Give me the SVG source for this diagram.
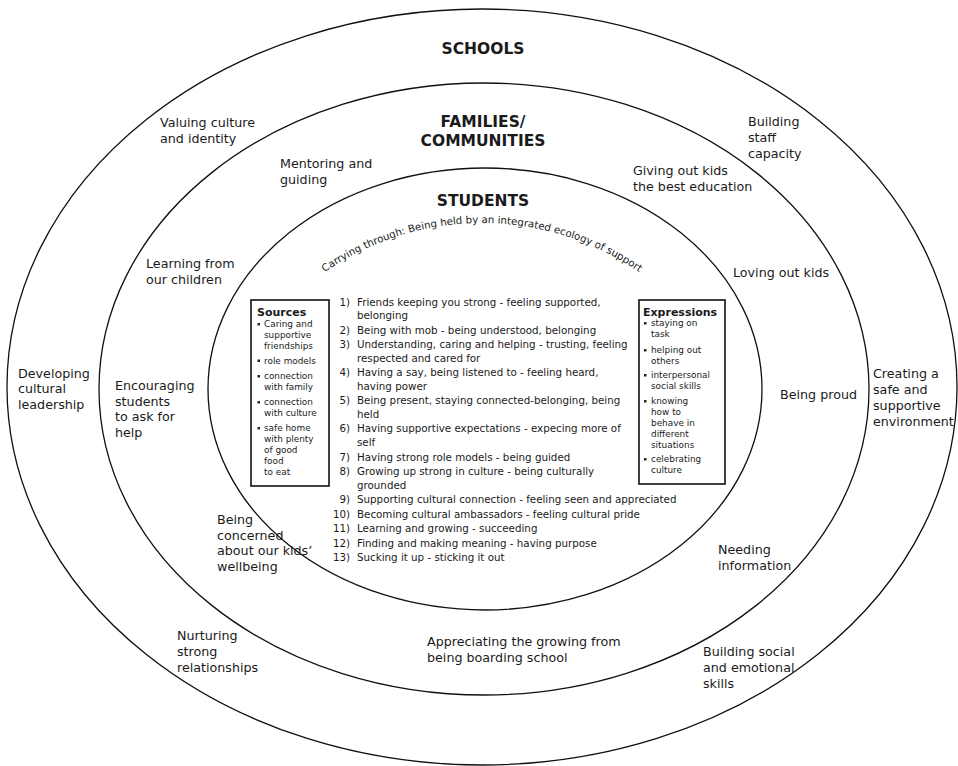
<svg xmlns="http://www.w3.org/2000/svg" width="958" height="766" viewBox="0 0 958 766">
<defs>
<style>
.ring{fill:none;stroke:#111;stroke-width:1.3}
.t{font-family:"DejaVu Sans","Liberation Sans",sans-serif;font-size:12.7px;fill:#1a1a1a}
.h{font-family:"DejaVu Sans","Liberation Sans",sans-serif;font-weight:bold;font-size:15.5px;fill:#1a1a1a;text-anchor:middle}
.li{font-family:"DejaVu Sans","Liberation Sans",sans-serif;font-size:10.3px;fill:#1a1a1a}
.num{font-family:"DejaVu Sans","Liberation Sans",sans-serif;font-size:10.3px;fill:#1a1a1a;text-anchor:end}
.bx{font-family:"DejaVu Sans","Liberation Sans",sans-serif;font-size:8.9px;fill:#1a1a1a}
.bh{font-family:"DejaVu Sans","Liberation Sans",sans-serif;font-weight:bold;font-size:11px;fill:#1a1a1a}
.box{fill:#fff;stroke:#111;stroke-width:1.6}
.bul{fill:#222}
.arc{font-family:"DejaVu Sans","Liberation Sans",sans-serif;font-size:10.2px;fill:#1a1a1a}
</style>
<path id="arcPath" d="M 243,361 A 276 276 0 0 1 721,361" fill="none"/>
</defs>
<rect width="958" height="766" fill="#fff"/>

<g id="schools">
<ellipse class="ring" cx="482" cy="387" rx="475" ry="378"/>
<text class="h" x="483" y="54">SCHOOLS</text>
</g>
<g id="families">
<ellipse class="ring" cx="484" cy="389" rx="385" ry="306"/>
<text class="h" x="483" y="127">FAMILIES/</text>
<text class="h" x="483" y="146">COMMUNITIES</text>
</g>
<g id="students">
<ellipse class="ring" cx="485" cy="389" rx="277" ry="221"/>
<text class="h" x="483" y="206">STUDENTS</text>
<text class="arc"><textPath href="#arcPath" startOffset="50%" text-anchor="middle">Carrying through: Being held by an integrated ecology of support</textPath></text>
</g>

<g id="connectors"></g>

<g id="school-labels">
<text class="t" x="160" y="127">Valuing culture<tspan x="160" dy="15.5">and identity</tspan></text>
<text class="t" x="748" y="126">Building<tspan x="748" dy="15.8">staff</tspan><tspan x="748" dy="15.8">capacity</tspan></text>
<text class="t" x="18" y="378">Developing<tspan x="18" dy="15.4">cultural</tspan><tspan x="18" dy="15.4">leadership</tspan></text>
<text class="t" x="873" y="378">Creating a<tspan x="873" dy="16">safe and</tspan><tspan x="873" dy="16">supportive</tspan><tspan x="873" dy="16">environment</tspan></text>
<text class="t" x="177" y="640">Nurturing<tspan x="177" dy="15.8">strong</tspan><tspan x="177" dy="15.8">relationships</tspan></text>
<text class="t" x="703" y="656">Building social<tspan x="703" dy="15.8">and emotional</tspan><tspan x="703" dy="15.8">skills</tspan></text>
</g>

<g id="family-labels">
<text class="t" x="280" y="168">Mentoring and<tspan x="280" dy="16">guiding</tspan></text>
<text class="t" x="633" y="175">Giving out kids<tspan x="633" dy="15.7">the best education</tspan></text>
<text class="t" x="146" y="268">Learning from<tspan x="146" dy="15.5">our children</tspan></text>
<text class="t" x="733" y="277">Loving out kids</text>
<text class="t" x="115" y="390">Encouraging<tspan x="115" dy="15.6">students</tspan><tspan x="115" dy="15.6">to ask for</tspan><tspan x="115" dy="15.6">help</tspan></text>
<text class="t" x="780" y="399">Being proud</text>
<text class="t" x="217" y="524">Being<tspan x="217" dy="15.6">concerned</tspan><tspan x="217" dy="15.6">about our kids’</tspan><tspan x="217" dy="15.6">wellbeing</tspan></text>
<text class="t" x="718" y="554">Needing<tspan x="718" dy="15.6">information</tspan></text>
<text class="t" x="427" y="646">Appreciating the growing from<tspan x="427" dy="15.5">being boarding school</tspan></text>
</g>

<g id="sources">
<rect class="box" x="251" y="300" width="78" height="186"/>
<text class="bh" x="257" y="316">Sources</text>
<rect class="bul" x="257.5" y="323" width="2.5" height="2.5"/>
<rect class="bul" x="257.5" y="359.5" width="2.5" height="2.5"/>
<rect class="bul" x="257.5" y="375" width="2.5" height="2.5"/>
<rect class="bul" x="257.5" y="401" width="2.5" height="2.5"/>
<rect class="bul" x="257.5" y="427" width="2.5" height="2.5"/>
<text class="bx" x="264" y="327.3">Caring and<tspan x="264" dy="11">supportive</tspan><tspan x="264" dy="11">friendships</tspan></text>
<text class="bx" x="264" y="364">role models</text>
<text class="bx" x="264" y="379.3">connection<tspan x="264" dy="10.8">with family</tspan></text>
<text class="bx" x="264" y="405.3">connection<tspan x="264" dy="11">with culture</tspan></text>
<text class="bx" x="264" y="431.3">safe home<tspan x="264" dy="11">with plenty</tspan><tspan x="264" dy="11">of good</tspan><tspan x="264" dy="11">food</tspan><tspan x="264" dy="11">to eat</tspan></text>
</g>

<g id="expressions">
<rect class="box" x="639" y="300" width="86" height="184"/>
<text class="bh" x="643" y="316">Expressions</text>
<rect class="bul" x="644" y="322" width="2.5" height="2.5"/>
<rect class="bul" x="644" y="349" width="2.5" height="2.5"/>
<rect class="bul" x="644" y="374" width="2.5" height="2.5"/>
<rect class="bul" x="644" y="400" width="2.5" height="2.5"/>
<rect class="bul" x="644" y="458" width="2.5" height="2.5"/>
<text class="bx" x="651" y="326.3">staying on<tspan x="651" dy="11">task</tspan></text>
<text class="bx" x="651" y="353.3">helping out<tspan x="651" dy="10.8">others</tspan></text>
<text class="bx" x="651" y="378.3">interpersonal<tspan x="651" dy="11">social skills</tspan></text>
<text class="bx" x="651" y="404.3">knowing<tspan x="651" dy="10.8">how to</tspan><tspan x="651" dy="10.8">behave in</tspan><tspan x="651" dy="10.8">different</tspan><tspan x="651" dy="10.8">situations</tspan></text>
<text class="bx" x="651" y="462.3">celebrating<tspan x="651" dy="11">culture</tspan></text>
</g>

<g id="list">
<text class="num" x="350" y="305.5">1)</text>
<text class="li" x="357" y="305.5">Friends keeping you strong - feeling supported,<tspan x="357" dy="13.6">belonging</tspan></text>
<text class="num" x="350" y="333.6">2)</text>
<text class="li" x="357" y="333.6">Being with mob - being understood, belonging</text>
<text class="num" x="350" y="348.1">3)</text>
<text class="li" x="357" y="348.1">Understanding, caring and helping - trusting, feeling<tspan x="357" dy="13.6">respected and cared for</tspan></text>
<text class="num" x="350" y="376.2">4)</text>
<text class="li" x="357" y="376.2">Having a say, being listened to - feeling heard,<tspan x="357" dy="13.6">having power</tspan></text>
<text class="num" x="350" y="404.3">5)</text>
<text class="li" x="357" y="404.3">Being present, staying connected-belonging, being<tspan x="357" dy="13.6">held</tspan></text>
<text class="num" x="350" y="432.4">6)</text>
<text class="li" x="357" y="432.4">Having supportive expectations - expecing more of<tspan x="357" dy="13.6">self</tspan></text>
<text class="num" x="350" y="460.5">7)</text>
<text class="li" x="357" y="460.5">Having strong role models - being guided</text>
<text class="num" x="350" y="475">8)</text>
<text class="li" x="357" y="475">Growing up strong in culture - being culturally<tspan x="357" dy="13.6">grounded</tspan></text>
<text class="num" x="350" y="503.1">9)</text>
<text class="li" x="357" y="503.1">Supporting cultural connection - feeling seen and appreciated</text>
<text class="num" x="350" y="517.6">10)</text>
<text class="li" x="357" y="517.6">Becoming cultural ambassadors - feeling cultural pride</text>
<text class="num" x="350" y="532.1">11)</text>
<text class="li" x="357" y="532.1">Learning and growing - succeeding</text>
<text class="num" x="350" y="546.6">12)</text>
<text class="li" x="357" y="546.6">Finding and making meaning - having purpose</text>
<text class="num" x="350" y="561.1">13)</text>
<text class="li" x="357" y="561.1">Sucking it up - sticking it out</text>
</g>
</svg>
